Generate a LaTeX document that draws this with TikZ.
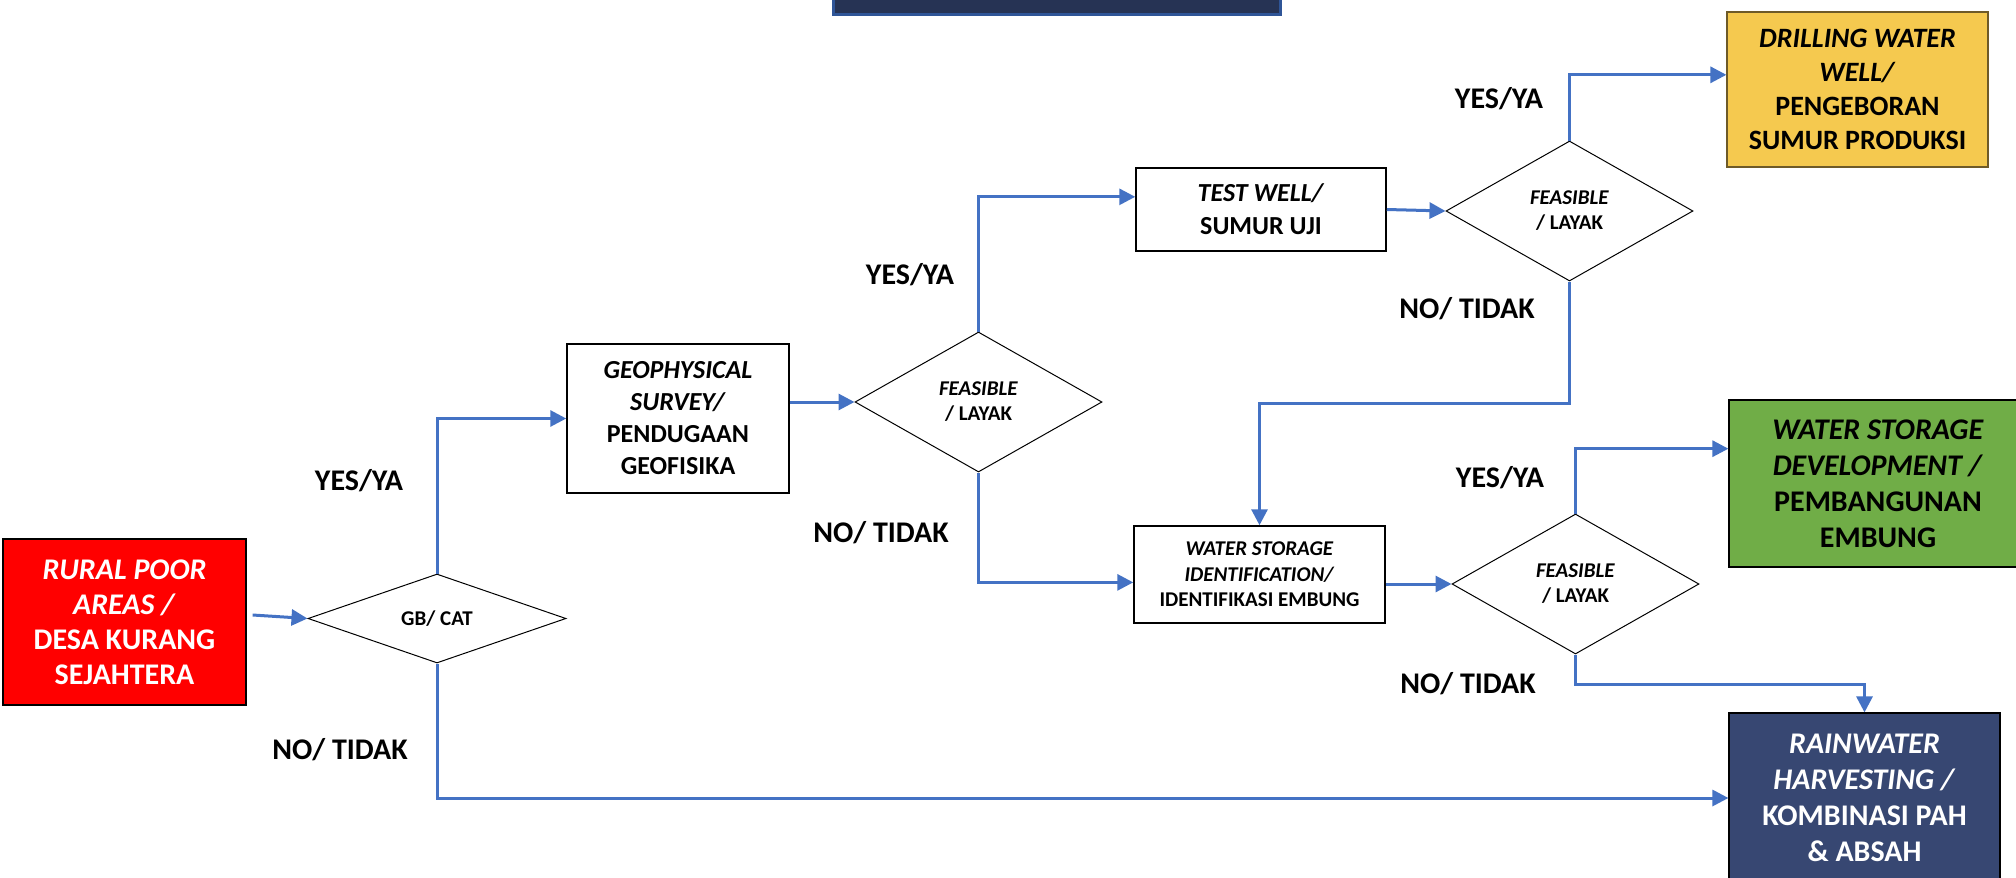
\documentclass[tikz,border=0pt]{standalone}
\usepackage{fontspec}
\setmainfont{Carlito}
\usetikzlibrary{shapes.geometric,arrows.meta,calc}
\definecolor{cblue}{RGB}{68,114,196}
\definecolor{cred}{RGB}{255,0,0}
\definecolor{cgold}{RGB}{245,201,79}
\definecolor{cgoldline}{RGB}{110,90,40}
\definecolor{cgreen}{RGB}{112,173,71}
\definecolor{cnavy}{RGB}{55,71,114}
\definecolor{ctopfill}{RGB}{38,51,84}
\definecolor{ctopline}{RGB}{47,85,151}
\begin{document}
\begin{tikzpicture}[x=1pt,y=-1pt,
  box/.style={draw=black, line width=1.5pt, inner sep=0pt, align=center, fill=white,
    font=\fontsize{26}{32}\selectfont\bfseries},
  outbox/.style={draw=black, line width=1.2pt, inner sep=0pt, align=center,
    font=\fontsize{30}{36}\selectfont\bfseries},
  decision/.style={diamond, draw=black, line width=1pt, inner sep=0pt, align=center, fill=white,
    font=\fontsize{21}{25}\selectfont\bfseries},
  lbl/.style={inner sep=0pt, font=\fontsize{30}{36}\selectfont\bfseries},
  conn/.style={draw=cblue, line width=3pt, -{Triangle[length=16pt,width=16pt]}}
]
\clip (0,0) rectangle (2016,878);
\fill[white] (0,0) rectangle (2016,878);

% title box (cut off at the top)
\node[draw=ctopline, fill=ctopfill, line width=3pt, minimum width=447pt, minimum height=40pt, inner sep=0pt] (title) at (1056.5,-6) {};

% nodes
\node[outbox, fill=cred, text=white, minimum width=243pt, minimum height=166pt,
  font=\fontsize{30}{35}\selectfont\bfseries] (red) at (124.5,622)
  {\textit{RURAL POOR}\\ \textit{AREAS /}\\ DESA KURANG\\ SEJAHTERA};

\node[decision, aspect=2.9, minimum width=258pt, minimum height=89pt] (gb) at (437,618.5) {GB/ CAT};

\node[box, minimum width=222pt, minimum height=149pt] (geo) at (678,418.5)
  {\textit{GEOPHYSICAL}\\ \textit{SURVEY/}\\ PENDUGAAN\\ GEOFISIKA};

\node[decision, aspect=1.76, minimum width=247pt, minimum height=140pt] (f1) at (978.5,402)
  {\textit{FEASIBLE}\\ / LAYAK};

\node[box, minimum width=250pt, minimum height=83pt, font=\fontsize{26}{33}\selectfont\bfseries] (tw) at (1261,209.5)
  {\textit{TEST WELL/}\\ SUMUR UJI};

\node[decision, aspect=1.76, minimum width=247pt, minimum height=140pt] (f2) at (1569.5,211)
  {\textit{FEASIBLE}\\ / LAYAK};

\node[outbox, fill=cgold, draw=cgoldline, minimum width=261pt, minimum height=155pt,
  font=\fontsize{28}{34}\selectfont\bfseries] (drill) at (1857.5,89.5)
  {\textit{DRILLING WATER}\\ \textit{WELL/}\\ PENGEBORAN\\ SUMUR PRODUKSI};

\node[box, minimum width=251pt, minimum height=97pt, font=\fontsize{21}{25.5}\selectfont\bfseries] (wsid) at (1259.5,574.5)
  {\textit{WATER STORAGE}\\ \textit{IDENTIFICATION/}\\ IDENTIFIKASI EMBUNG};

\node[decision, aspect=1.76, minimum width=247pt, minimum height=140pt] (f3) at (1575.5,584)
  {\textit{FEASIBLE}\\ / LAYAK};

\node[outbox, fill=cgreen, minimum width=298pt, minimum height=167pt] (green) at (1878,483.5)
  {\textit{WATER STORAGE}\\ \textit{DEVELOPMENT /}\\ PEMBANGUNAN\\ EMBUNG};

\node[outbox, fill=cnavy, text=white, minimum width=271pt, minimum height=170pt] (rain) at (1864.5,798)
  {\textit{RAINWATER}\\ \textit{HARVESTING /}\\ KOMBINASI PAH\\ \& ABSAH};

% labels
\node[lbl] (y1) at (359,481) {YES/YA};
\node[lbl] (n1) at (340,750) {NO/ TIDAK};
\node[lbl] (y2) at (910,275) {YES/YA};
\node[lbl] (n2) at (881,533) {NO/ TIDAK};
\node[lbl] (y3) at (1499,99) {YES/YA};
\node[lbl] (n3) at (1467,309) {NO/ TIDAK};
\node[lbl] (y4) at (1500,478) {YES/YA};
\node[lbl] (n4) at (1468,684) {NO/ TIDAK};

% connectors
\draw[conn] ($(red.east)+(6,-7)$) -- (gb.west);
\draw[conn] (gb.north) |- (geo.west);
\draw[conn] (geo.east |- f1.west) -- (f1.west);
\draw[conn] (f1.north) |- ($(tw.north west)!0.35!(tw.south west)$);
\draw[conn] (f1.south) |- ($(wsid.north west)!0.58!(wsid.south west)$);
\draw[conn] (tw.east) -- (f2.west);
\draw[conn] (f2.north) |- ($(drill.north west)!0.406!(drill.south west)$);
\draw[conn] (f2.south) -- ++(0,122) -| (wsid.north);
\draw[conn] (wsid.east |- f3.west) -- (f3.west);
\draw[conn] (f3.north) |- ($(green.north west)!0.293!(green.south west)$);
\draw[conn] (f3.south) -- ++(0,30) -| (rain.north);
\draw[conn] (gb.south) |- (rain.west);
\end{tikzpicture}
\end{document}
